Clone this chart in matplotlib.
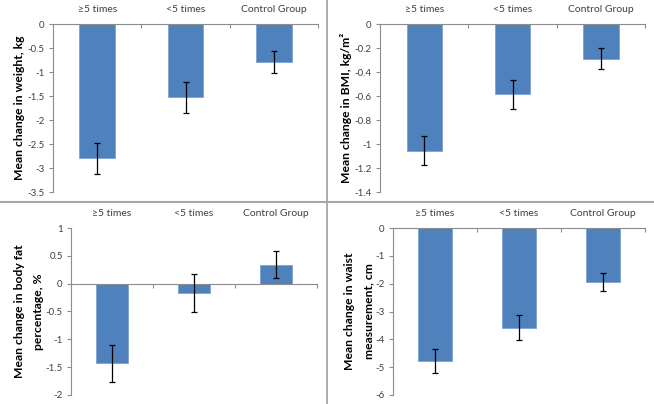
import matplotlib
matplotlib.use("Agg")
import matplotlib.pyplot as plt
from matplotlib.ticker import FuncFormatter
from matplotlib.lines import Line2D
import numpy as np

plt.rcParams['font.family'] = ['Lato', 'DejaVu Sans']
plt.rcParams['axes.unicode_minus'] = False

categories = ["≥5 times", "<5 times", "Control Group"]

weight_mean = [-2.80, -1.53, -0.80]
weight_err = [0.32, 0.32, 0.23]

bmi_mean = [-1.055, -0.585, -0.29]
bmi_err = [0.12, 0.12, 0.088]

fat_mean = [-1.43, -0.17, 0.34]
fat_err = [0.33, 0.34, 0.24]

waist_mean = [-4.78, -3.58, -1.95]
waist_err = [0.44, 0.45, 0.32]

panels = [
    dict(mean=weight_mean, err=weight_err, ylim=(-3.5, 0), step=0.5,
         ylabel="Mean change in weight, kg", rect=[53, 24, 318, 192], pad=2),
    dict(mean=bmi_mean, err=bmi_err, ylim=(-1.4, 0), step=0.2,
         ylabel="Mean change in BMI, kg/m²", rect=[380, 24, 645, 192], pad=2),
    dict(mean=fat_mean, err=fat_err, ylim=(-2, 1), step=0.5,
         ylabel="Mean change in body fat\npercentage, %", rect=[71, 228, 317, 395], pad=1),
    dict(mean=waist_mean, err=waist_err, ylim=(-6, 0), step=1,
         ylabel="Mean change in waist\nmeasurement, cm", rect=[393, 228, 645, 395], pad=1),
]

W, H = 654, 404
fig = plt.figure(figsize=(W / 100, H / 100), dpi=100)

bar_color = "#4F81BD"
axis_color = "#8c8c8c"
text_color = "#404040"


def fmt(v, pos):
    v = round(v, 3)
    if abs(v) < 1e-9:
        v = 0.0
    return "%g" % v


for p in panels:
    x0, y0, x1, y1 = p["rect"]
    ax = fig.add_axes([x0 / W, 1 - y1 / H, (x1 - x0) / W, (y1 - y0) / H])
    x = np.arange(len(categories))
    ax.bar(x, p["mean"], width=0.4, color=bar_color, edgecolor="#7ea2d0", linewidth=0.6, zorder=2)
    ax.errorbar(x, p["mean"], yerr=p["err"], fmt="none", ecolor="black",
                elinewidth=0.9, capsize=2, capthick=0.9, zorder=3)
    ax.set_xlim(-0.5, 2.5)
    lo, hi = p["ylim"]
    ax.set_ylim(lo, hi)
    ax.set_yticks(np.arange(lo, hi + p["step"] / 2, p["step"]))
    ax.yaxis.set_major_formatter(FuncFormatter(fmt))
    ax.set_xticks(x)
    ax.set_xticklabels(categories)
    ax.set_xticks([0.5, 1.5, 2.5], minor=True)
    ax.tick_params(axis="x", which="major", bottom=False, top=False,
                   labelbottom=False, labeltop=True, length=0, pad=7,
                   labelsize=7.5, labelcolor=text_color)
    ax.tick_params(axis="x", which="minor", bottom=True, top=False,
                   direction="out", length=3, color=axis_color, width=0.8)
    ax.tick_params(axis="y", direction="out", length=3, color=axis_color, width=0.8,
                   labelsize=7, labelcolor=text_color, pad=3)
    ax.spines["top"].set_visible(False)
    ax.spines["right"].set_visible(False)
    ax.spines["bottom"].set_position(("data", 0))
    for s in ("left", "bottom"):
        ax.spines[s].set_color(axis_color)
        ax.spines[s].set_linewidth(0.8)
    ax.set_ylabel(p["ylabel"], fontsize=8.7, fontweight="bold", color="black",
                  labelpad=p["pad"], linespacing=1.85)

# panel dividers
fig.add_artist(Line2D([327 / W, 327 / W], [0, 1], color="#a6a6a6", linewidth=1.3,
                      transform=fig.transFigure))
fig.add_artist(Line2D([0, 1], [1 - 201.5 / H, 1 - 201.5 / H], color="#a6a6a6", linewidth=1.5,
                      transform=fig.transFigure))

fig.savefig("out.png", dpi=100)
